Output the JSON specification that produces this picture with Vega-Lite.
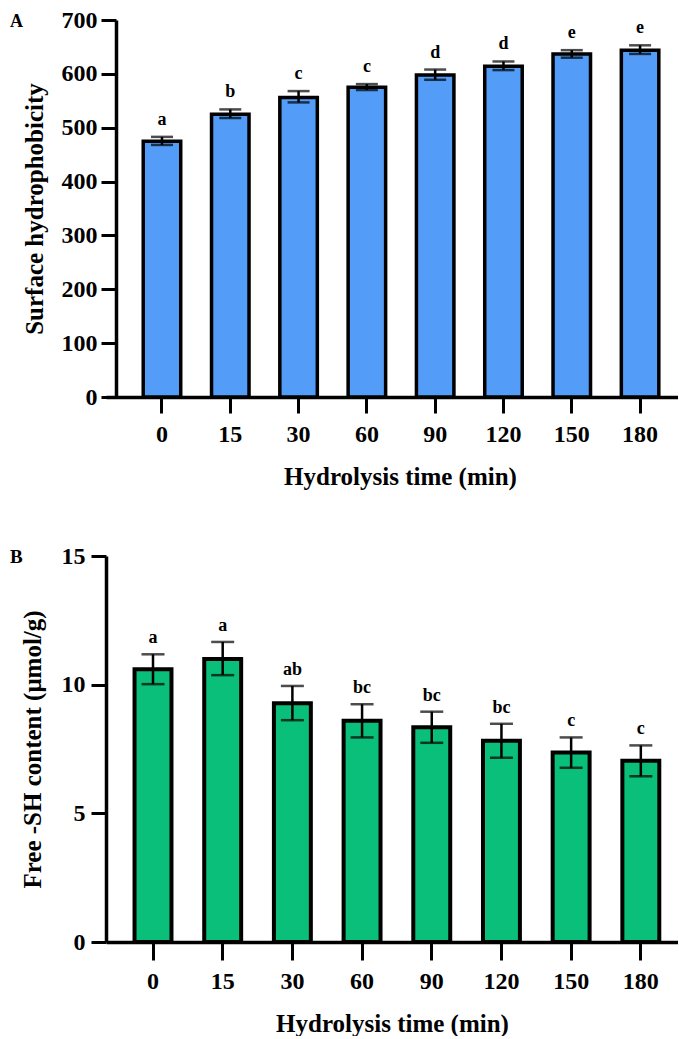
{
  "$schema": "https://vega.github.io/schema/vega-lite/v6.json",
  "background": "white",
  "padding": {"left": 10, "top": 8, "right": 0, "bottom": 0},
  "spacing": 55,
  "columns": 1,
  "config": {
    "view": {"stroke": null},
    "font": "Liberation Serif",
    "axis": {
      "labelFont": "Liberation Serif", "labelFontWeight": "bold", "labelFontSize": 24, "labelColor": "black",
      "titleFont": "Liberation Serif", "titleFontWeight": "bold", "titleFontSize": 25, "titleColor": "black",
      "domainColor": "black", "domainWidth": 3.5, "tickColor": "black", "tickWidth": 3, "tickSize": 15,
      "grid": false
    },
    "title": {"font": "Liberation Serif", "fontWeight": "bold", "color": "black", "anchor": "start", "frame": "bounds", "baseline": "top"}
  },
  "datasets": {
    "hydro": [
      {"time": 0, "mean": 475, "lower": 468, "upper": 483, "group": "a"},
      {"time": 15, "mean": 525, "lower": 518, "upper": 534, "group": "b"},
      {"time": 30, "mean": 556, "lower": 547, "upper": 568, "group": "c"},
      {"time": 60, "mean": 575, "lower": 570, "upper": 581, "group": "c"},
      {"time": 90, "mean": 598, "lower": 589, "upper": 608, "group": "d"},
      {"time": 120, "mean": 614, "lower": 607, "upper": 623, "group": "d"},
      {"time": 150, "mean": 637, "lower": 630, "upper": 644, "group": "e"},
      {"time": 180, "mean": 644, "lower": 637, "upper": 653, "group": "e"}
    ],
    "sh": [
      {"time": 0, "mean": 10.6, "lower": 10.02, "upper": 11.18, "group": "a"},
      {"time": 15, "mean": 11.0, "lower": 10.37, "upper": 11.66, "group": "a"},
      {"time": 30, "mean": 9.28, "lower": 8.62, "upper": 9.95, "group": "ab"},
      {"time": 60, "mean": 8.6, "lower": 7.95, "upper": 9.24, "group": "bc"},
      {"time": 90, "mean": 8.35, "lower": 7.74, "upper": 8.95, "group": "bc"},
      {"time": 120, "mean": 7.82, "lower": 7.16, "upper": 8.48, "group": "bc"},
      {"time": 150, "mean": 7.36, "lower": 6.77, "upper": 7.95, "group": "c"},
      {"time": 180, "mean": 7.04, "lower": 6.44, "upper": 7.64, "group": "c"}
    ]
  },
  "concat": [
    {
      "width": 572,
      "height": 377,
      "title": {"text": "A", "fontSize": 18, "dx": -12, "dy": 27},
      "data": {"name": "hydro"},
      "encoding": {
        "x": {
          "field": "time", "type": "ordinal",
          "scale": {"paddingInner": 0.451, "paddingOuter": 0.413, "align": 0.66},
          "axis": {"title": "Hydrolysis time (min)", "labelAngle": 0, "labelPadding": 9, "titlePadding": 18, "tickSize": 16, "titleX": 294}
        }
      },
      "layer": [
        {
          "mark": {"type": "bar", "fill": "#539DF9", "stroke": "black", "strokeWidth": 3.5},
          "encoding": {
            "y": {
              "field": "mean", "type": "quantitative",
              "scale": {"domain": [0, 700], "nice": false},
              "axis": {"title": "Surface hydrophobicity", "values": [0, 100, 200, 300, 400, 500, 600, 700], "labelPadding": 4, "titlePadding": 14, "offset": -10}
            }
          }
        },
        {
          "mark": {"type": "rule", "color": "black", "strokeWidth": 2.5},
          "encoding": {"y": {"field": "lower", "type": "quantitative"}, "y2": {"field": "upper"}}
        },
        {
          "mark": {"type": "tick", "color": "black", "thickness": 2.5, "size": 22},
          "encoding": {"y": {"field": "upper", "type": "quantitative"}}
        },
        {
          "mark": {"type": "tick", "color": "black", "thickness": 2.5, "size": 22},
          "encoding": {"y": {"field": "lower", "type": "quantitative"}}
        },
        {
          "mark": {"type": "text", "font": "Liberation Serif", "fontWeight": "bold", "fontSize": 18, "baseline": "alphabetic", "dy": -12, "color": "black"},
          "encoding": {"y": {"field": "upper", "type": "quantitative"}, "text": {"field": "group"}}
        }
      ]
    },
    {
      "width": 572,
      "height": 386,
      "title": {"text": "B", "fontSize": 19, "dx": -10, "dy": 27},
      "data": {"name": "sh"},
      "encoding": {
        "x": {
          "field": "time", "type": "ordinal",
          "scale": {"paddingInner": 0.47, "paddingOuter": 0.339, "align": 0.604},
          "axis": {"title": "Hydrolysis time (min)", "labelAngle": 0, "labelPadding": 9, "titlePadding": 18, "tickSize": 18}
        }
      },
      "layer": [
        {
          "mark": {"type": "bar", "fill": "#0ABF79", "stroke": "black", "strokeWidth": 4},
          "encoding": {
            "y": {
              "field": "mean", "type": "quantitative",
              "scale": {"domain": [0, 15], "nice": false},
              "axis": {"title": "Free -SH content (μmol/g)", "values": [0, 5, 10, 15], "labelPadding": 6, "titlePadding": 16}
            }
          }
        },
        {
          "mark": {"type": "rule", "color": "black", "strokeWidth": 2.5},
          "encoding": {"y": {"field": "lower", "type": "quantitative"}, "y2": {"field": "upper"}}
        },
        {
          "mark": {"type": "tick", "color": "black", "thickness": 2.5, "size": 23},
          "encoding": {"y": {"field": "upper", "type": "quantitative"}}
        },
        {
          "mark": {"type": "tick", "color": "black", "thickness": 2.5, "size": 23},
          "encoding": {"y": {"field": "lower", "type": "quantitative"}}
        },
        {
          "mark": {"type": "text", "font": "Liberation Serif", "fontWeight": "bold", "fontSize": 18, "baseline": "alphabetic", "dy": -11, "color": "black"},
          "encoding": {"y": {"field": "upper", "type": "quantitative"}, "text": {"field": "group"}}
        }
      ]
    }
  ]
}
